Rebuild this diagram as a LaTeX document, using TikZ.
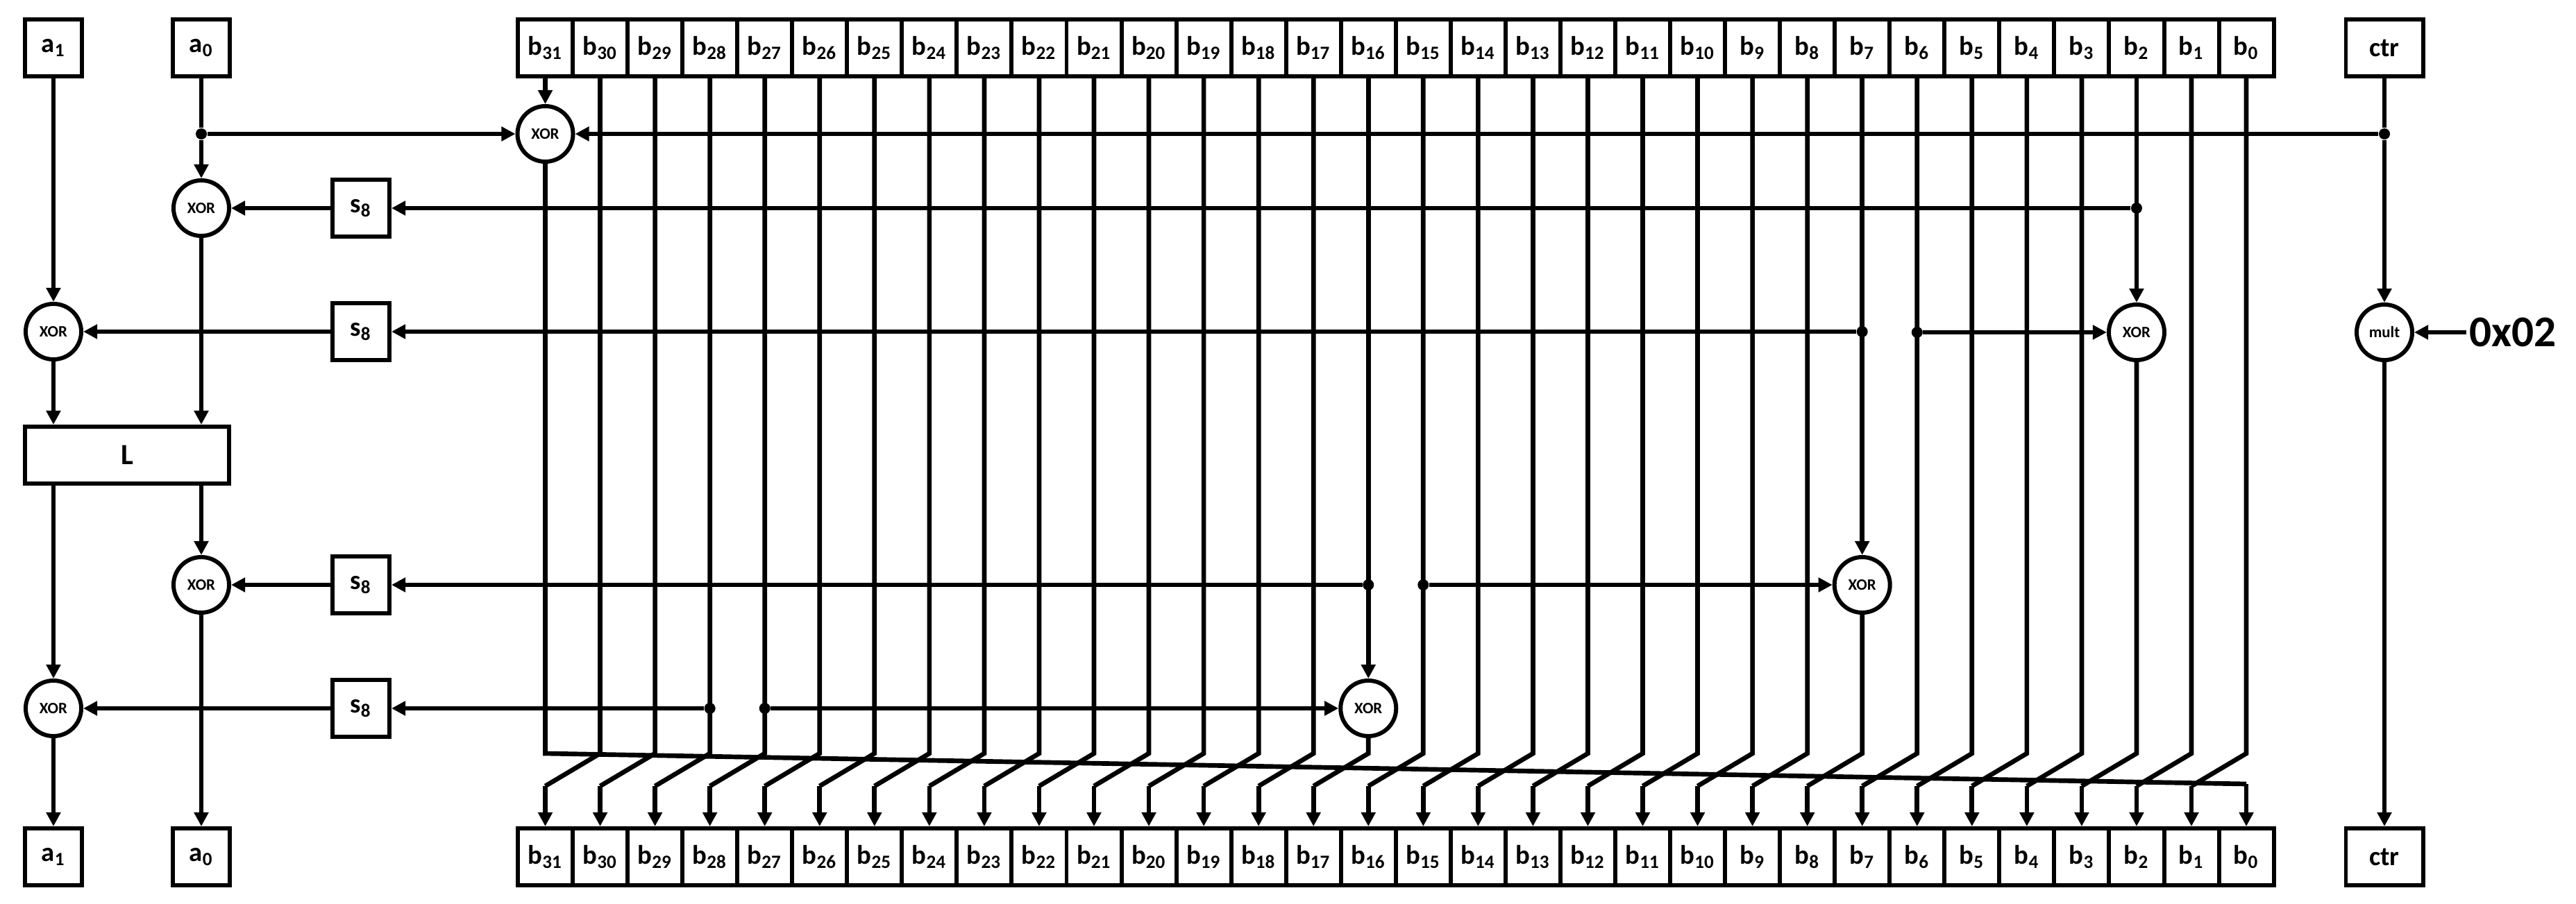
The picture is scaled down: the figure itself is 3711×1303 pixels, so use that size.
\documentclass[tikz,border=0pt]{standalone}
\usepackage{fontspec}
\setmainfont{Carlito}
\usetikzlibrary{arrows.meta}

\begin{document}
\begin{tikzpicture}[x=0.01cm, y=-0.01cm,
  wire/.style={line width=1.9pt},
  arr/.style={wire, -{Triangle[length=2mm, width=2mm]}},
  box/.style={draw, line width=1.7pt, minimum width=0.82cm, minimum height=0.82cm,
              inner sep=0pt, font=\bfseries\fontsize{11}{13}\selectfont},
  cell/.style={box, minimum width=0.79cm},
  gate/.style={draw, circle, line width=1.7pt, minimum size=0.8cm, inner sep=0pt,
               fill=white, font=\bfseries\fontsize{6.5}{8}\selectfont},
  dot/.style={circle, fill=black, inner sep=0pt, minimum size=0.16cm}]

\useasboundingbox (0,0) rectangle (3711,1303);

%─────────────
% Controls
%─────────────
\def\cellw{79.05}  % width of one register cell
\def\bleft{785.5}  % centre of b31
\def\ytop{69}      % row of input registers
\def\ybot{1235}    % row of output registers
\def\ybend{1086}   % where the columns leave the vertical
\def\ydrop{1133}   % where they land on the next column

%─────────────
% Registers
%─────────────
\node[box] (a1in) at (77,\ytop) {a\textsubscript{1}};
\node[box] (a0in) at (290,\ytop) {a\textsubscript{0}};
\node[box, minimum width=1.11cm] (ctrin) at (3435,\ytop) {ctr};
\node[box] (a1out) at (77,\ybot) {a\textsubscript{1}};
\node[box] (a0out) at (290,\ybot) {a\textsubscript{0}};
\node[box, minimum width=1.11cm] (ctrout) at (3435,\ybot) {ctr};

\foreach \i in {0,...,31} {
  \pgfmathsetmacro{\cx}{\bleft+(31-\i)*\cellw}
  \node[cell] (bin\i) at (\cx,\ytop) {b\textsubscript{\i}};
  \node[cell] (bout\i) at (\cx,\ybot) {b\textsubscript{\i}};
  \coordinate (t\i) at (\cx,\ybend);
  \coordinate (u\i) at (\cx,\ydrop);
}
\coordinate (c0) at (bin0 |- 0,1130);

%─────────────
% Gates and S-boxes
%─────────────
\node[gate] (xorT) at (bin31 |- 0,193) {XOR};
\node[gate] (xorA) at (a0in |- 0,300) {XOR};
\node[gate] (xorB) at (a1in |- 0,478) {XOR};
\node[gate] (xorC) at (a0in |- 0,843) {XOR};
\node[gate] (xorD) at (a1in |- 0,1021) {XOR};
\node[gate] (xorE) at (bin2 |- 0,479) {XOR};
\node[gate] (xorF) at (bin7 |- 0,843) {XOR};
\node[gate] (xorG) at (bin16 |- 0,1021) {XOR};
\node[gate] (mult) at (ctrin |- 0,479) {mult};

\node[box] (sA) at (520,300) {s\textsubscript{8}};
\node[box] (sB) at (520,478) {s\textsubscript{8}};
\node[box] (sC) at (520,843) {s\textsubscript{8}};
\node[box] (sD) at (520,1021) {s\textsubscript{8}};

\node[box, minimum width=2.94cm, font=\bfseries\fontsize{12}{14}\selectfont] (L) at (183,656) {L};

\node[anchor=west, inner sep=1pt, font=\bfseries\fontsize{18}{20}\selectfont] (k02) at (3553,479) {0x02};

%─────────────
% Junctions
%─────────────
\node[dot] (ja0) at (a0in |- xorT) {};
\node[dot] (jctr) at (ctrin |- xorT) {};
\node[dot] (jb2) at (bin2 |- sA) {};
\node[dot] (jb7) at (bin7 |- sB) {};
\node[dot] (jb6) at (bin6 |- xorE) {};
\node[dot] (jb16) at (bin16 |- sC) {};
\node[dot] (jb15) at (bin15 |- sC) {};
\node[dot] (jb28) at (bin28 |- sD) {};
\node[dot] (jb27) at (bin27 |- sD) {};

%─────────────
% Byte rotation (plain columns)
%─────────────
\foreach \i in {0,1,3,4,5,6,8,9,10,11,12,13,14,15,17,18,19,20,21,22,23,24,25,26,27,28,29,30} {
  \pgfmathtruncatemacro{\j}{\i+1}
  \draw[wire] (bin\i) -- (t\i) -- (u\j);
  \draw[arr] (u\j) -- (bout\j);
}

% columns running through a gate
\draw[arr] (bin2) -- (xorE);
\draw[wire] (xorE) -- (t2) -- (u3);
\draw[arr] (u3) -- (bout3);
\draw[arr] (bin7) -- (xorF);
\draw[wire] (xorF) -- (t7) -- (u8);
\draw[arr] (u8) -- (bout8);
\draw[arr] (bin16) -- (xorG);
\draw[wire] (xorG) -- (t16) -- (u17);
\draw[arr] (u17) -- (bout17);
\draw[arr] (bin31) -- (xorT);
\draw[wire] (xorT) -- (t31) -- (c0);
\draw[arr] (c0) -- (bout0);

%─────────────
% Left half: a1, a0 and L
%─────────────
\draw[wire] (a0in) -- (ja0);
\draw[arr] (ja0) -- (xorA);
\draw[arr] (ja0) -- (xorT);
\draw[arr] (a1in) -- (xorB);
\draw[arr] (xorB) -- (L.north -| xorB);
\draw[arr] (xorA) -- (L.north -| xorA);
\draw[arr] (L.south -| xorB) -- (xorD);
\draw[arr] (L.south -| xorC) -- (xorC);
\draw[arr] (xorD) -- (a1out);
\draw[arr] (xorC) -- (a0out);

% feed through the S-boxes
\draw[arr] (jb2) -- (sA);
\draw[arr] (sA) -- (xorA);
\draw[arr] (jb7) -- (sB);
\draw[arr] (sB) -- (xorB);
\draw[arr] (jb16) -- (sC);
\draw[arr] (sC) -- (xorC);
\draw[arr] (jb28) -- (sD);
\draw[arr] (sD) -- (xorD);

% feed into the column gates
\draw[arr] (jb6) -- (xorE);
\draw[arr] (jb15) -- (xorF);
\draw[arr] (jb27) -- (xorG);

%─────────────
% Counter
%─────────────
\draw[wire] (ctrin) -- (jctr);
\draw[arr] (jctr) -- (xorT);
\draw[arr] (jctr) -- (mult);
\draw[arr] (k02) -- (mult);
\draw[arr] (mult) -- (ctrout);

\end{tikzpicture}
\end{document}
